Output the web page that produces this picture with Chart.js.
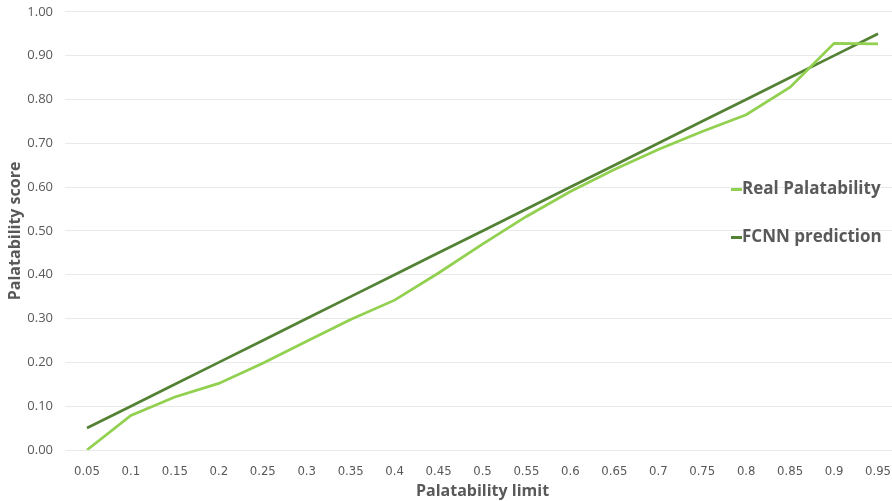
<!DOCTYPE html>
<html>
<head>
<meta charset="utf-8">
<script src="https://cdn.jsdelivr.net/npm/chart.js@4.4.0/dist/chart.umd.min.js"></script>
<style>
  html, body { margin: 0; padding: 0; background: #fff; overflow: hidden; }
  #wrap { position: relative; width: 910px; height: 501px; overflow: hidden; }
  #chart { position: absolute; left: 0; top: -8px; }
  #legend { position: absolute; left: 731px; top: 174px; font-family: "Open Sans", "DejaVu Sans", sans-serif; font-weight: bold; font-size: 17px; color: #595959; }
  #legend div { height: 48px; line-height: 28px; white-space: nowrap; }
  #legend span.sw { display: inline-block; width: 11px; height: 3px; vertical-align: middle; margin-right: 0px; }
</style>
</head>
<body>
<div id="wrap">
  <canvas id="chart" width="910" height="509"></canvas>
  <div id="legend"></div>
</div>
<script>
// categories along the x axis
const limits = ['0.05', '0.1', '0.15', '0.2', '0.25', '0.3', '0.35', '0.4', '0.45', '0.5',
                '0.55', '0.6', '0.65', '0.7', '0.75', '0.8', '0.85', '0.9', '0.95'];

// series
const realPalatability = [0.000, 0.079, 0.121, 0.152, 0.198, 0.248, 0.298, 0.342, 0.404, 0.470,
                          0.533, 0.590, 0.640, 0.686, 0.727, 0.765, 0.828, 0.928, 0.927];
const fcnnPrediction = [0.05, 0.10, 0.15, 0.20, 0.25, 0.30, 0.35, 0.40, 0.45, 0.50,
                        0.55, 0.60, 0.65, 0.70, 0.75, 0.80, 0.85, 0.90, 0.95];

const seriesNames = ['Real Palatability', 'FCNN prediction'];
const seriesColors = ['#92D050', '#548235'];

const font = "'Open Sans', 'DejaVu Sans', sans-serif";
const grey = '#595959';

const ctx = document.getElementById('chart');
new Chart(ctx, {
    type: 'line',
    data: {
        labels: limits,
        datasets: [
            {
                label: seriesNames[0],
                data: realPalatability,
                borderColor: seriesColors[0],
                backgroundColor: seriesColors[0],
                borderWidth: 2.75,
                pointRadius: 0,
                tension: 0
            },
            {
                label: seriesNames[1],
                data: fcnnPrediction,
                borderColor: seriesColors[1],
                backgroundColor: seriesColors[1],
                borderWidth: 2.75,
                pointRadius: 0,
                tension: 0
            }
        ]
    },
    options: {
        responsive: false,
        animation: false,
        layout: { padding: { top: 3, right: 10, left: 0, bottom: 0 } },
        plugins: {
            legend: { display: false },
            tooltip: { enabled: false }
        },
        scales: {
            x: {
                offset: true,
                grid: { display: false },
                border: { display: false },
                ticks: { color: grey, font: { family: "'Liberation Sans Narrow', 'DejaVu Sans Condensed', sans-serif", size: 13 }, padding: 6, maxRotation: 0, autoSkip: false },
                title: { display: true, text: 'Palatability limit', color: grey, font: { family: font, size: 16, weight: 'bold' }, padding: { top: 0, bottom: 0 } },
                afterFit: function (scale) { scale.height = 51; }
            },
            y: {
                min: 0,
                max: 1,
                grid: { color: '#E9E9E9', lineWidth: 1, drawTicks: false },
                border: { display: false },
                ticks: {
                    stepSize: 0.1,
                    color: grey,
                    font: { family: font, size: 13 },
                    padding: 12,
                    callback: function (value) { return value.toFixed(2); }
                },
                title: { display: true, text: 'Palatability score', color: grey, font: { family: font, size: 16, weight: 'bold' }, padding: { top: 6, bottom: 0 } },
                afterFit: function (scale) { scale.width = 65; }
            }
        }
    }
});

// legend drawn as an overlay, since it sits inside the plot area
const legendBox = document.getElementById('legend');
seriesNames.forEach(function (name, i) {
    const row = document.createElement('div');
    const sw = document.createElement('span');
    sw.className = 'sw';
    sw.style.background = seriesColors[i];
    row.appendChild(sw);
    row.appendChild(document.createTextNode(name));
    legendBox.appendChild(row);
});
</script>
</body>
</html>
